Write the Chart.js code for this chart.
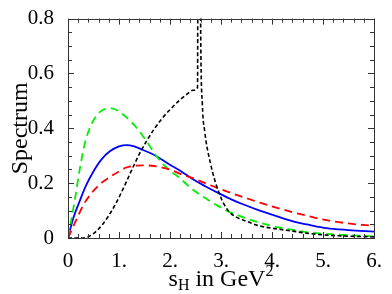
<!DOCTYPE html>
<html>
<head>
<meta charset="utf-8">
<script src="https://cdn.jsdelivr.net/npm/chart.js@4"></script>
<style>
  html, body { margin: 0; padding: 0; background: #fff; }
  #wrap { width: 392px; height: 294px; position: relative; }
</style>
</head>
<body>
<div id="wrap"><canvas id="spectrumChart" width="392" height="294"></canvas></div>
<script>
// x ticks / y ticks
var xTicks = [0, 1, 2, 3, 4, 5, 6];
var yTicks = [0, 0.2, 0.4, 0.6, 0.8];

// blue solid curve
var blueX = [0, 0.1, 0.23, 0.35, 0.49, 0.65, 0.82, 1.0, 1.15, 1.3, 1.47, 1.7, 1.99, 2.2, 2.45, 2.7, 2.97, 3.2, 3.43, 3.76, 4.1, 4.41, 4.75, 5.07, 5.5, 6];
var blueY = [0, 0.07, 0.135, 0.19, 0.24, 0.285, 0.316, 0.334, 0.339, 0.334, 0.321, 0.302, 0.268, 0.245, 0.214, 0.188, 0.162, 0.141, 0.123, 0.1, 0.079, 0.061, 0.047, 0.036, 0.029, 0.023];

// red dashed curve
var redX = [0, 0.16, 0.3, 0.49, 0.65, 0.82, 1.0, 1.145, 1.3, 1.47, 1.7, 1.99, 2.2, 2.45, 2.8, 3.11, 3.5, 3.76, 3.95, 4.41, 5.07, 5.5, 6];
var redY = [0, 0.065, 0.12, 0.17, 0.2, 0.222, 0.243, 0.257, 0.263, 0.265, 0.262, 0.25, 0.234, 0.218, 0.192, 0.17, 0.145, 0.129, 0.118, 0.094, 0.065, 0.053, 0.044];

// green dashed curve
var greenX = [0, 0.13, 0.23, 0.33, 0.49, 0.65, 0.85, 1.05, 1.34, 1.55, 1.73, 1.99, 2.13, 2.45, 2.78, 3.11, 3.43, 3.76, 4.1, 4.41, 4.74, 5.3, 6];
var greenY = [0, 0.135, 0.25, 0.345, 0.426, 0.463, 0.473, 0.455, 0.403, 0.35, 0.3, 0.246, 0.228, 0.176, 0.135, 0.1, 0.076, 0.056, 0.04, 0.03, 0.02, 0.012, 0.006];

// black dashed curve (spike near 2.56)
var blackX = [0, 0.29, 0.4, 0.5, 0.6, 0.7, 0.8, 0.9, 1.0, 1.1, 1.21, 1.3, 1.41, 1.54, 1.7, 1.85, 2.0, 2.19, 2.35, 2.45, 2.54, 2.55, 2.59, 2.6, 2.635, 2.68, 2.79, 2.97, 3.14, 3.3, 3.43, 3.76, 4.1, 4.41, 4.74, 5.3, 6];
var blackY = [0, 0, 0.005, 0.016, 0.033, 0.055, 0.082, 0.113, 0.148, 0.187, 0.232, 0.268, 0.31, 0.353, 0.4, 0.437, 0.468, 0.503, 0.527, 0.539, 0.548, 1.3, 1.3, 0.8, 0.485, 0.39, 0.275, 0.16, 0.1, 0.076, 0.066, 0.044, 0.033, 0.025, 0.016, 0.008, 0.004];

function pts(xs, ys) {
    return xs.map(function (x, i) { return { x: x, y: ys[i] }; });
}

var serif = '"Liberation Serif", "Times New Roman", serif';

var ctx = document.getElementById('spectrumChart').getContext('2d');
var spectrumChart = new Chart(ctx, {
    type: 'line',
    data: {
        datasets: [{
            label: 'black',
            data: pts(blackX, blackY),
            borderColor: '#000000',
            borderWidth: 1.6,
            borderDash: [4, 2.5],
        },
        {
            label: 'red',
            data: pts(redX, redY),
            borderColor: '#ff0000',
            borderWidth: 1.8,
            borderDash: [8, 5],
        },
        {
            label: 'green',
            data: pts(greenX, greenY),
            borderColor: '#00ee00',
            borderWidth: 1.8,
            borderDash: [8, 5],
        },
        {
            label: 'blue',
            data: pts(blueX, blueY),
            borderColor: '#0000ff',
            borderWidth: 1.8,
        }]
    },
    options: {
        responsive: false,
        animation: false,
        layout: {
            padding: { top: 10, right: 18, left: 0, bottom: 0 }
        },
        elements: {
            point: { radius: 0 },
            line: { cubicInterpolationMode: 'monotone', fill: false }
        },
        scales: {
            x: {
                type: 'linear',
                min: 0,
                max: 6,
                border: { display: false },
                grid: { display: false },
                afterBuildTicks: function (scale) {
                    scale.ticks = xTicks.map(function (v) { return { value: v }; });
                },
                afterFit: function (scale) { scale.height = 56; },
                ticks: {
                    color: '#000',
                    padding: 3,
                    maxRotation: 0,
                    font: { family: serif, size: 21 },
                    callback: function (v) { return v === 0 ? '0' : v + '.'; }
                }
            },
            y: {
                min: 0,
                max: 0.8,
                border: { display: false },
                grid: { display: false },
                afterBuildTicks: function (scale) {
                    scale.ticks = yTicks.map(function (v) { return { value: v }; });
                },
                afterFit: function (scale) { scale.width = 68; },
                ticks: {
                    color: '#000',
                    padding: 6,
                    font: { family: serif, size: 21 },
                    callback: function (v) { return v === 0 ? '0' : v.toFixed(1); }
                }
            }
        },
        plugins: {
            legend: { display: false },
            tooltip: { enabled: false }
        }
    },
    plugins: [{
        id: 'frameAndTitles',
        afterDraw: function (chart) {
            var c = chart.ctx;
            var a = chart.chartArea;
            var xs = chart.scales.x, ys = chart.scales.y;
            c.save();
            c.strokeStyle = '#333';
            c.lineWidth = 1;
            c.strokeRect(Math.round(a.left) + 0.5, Math.round(a.top) + 0.5,
                Math.round(a.right - a.left), Math.round(a.bottom - a.top));
            // inward ticks on every side
            c.beginPath();
            for (var i = 0; i <= 30; i++) {
                var v = i / 5;
                var px = Math.round(xs.getPixelForValue(v)) + 0.5;
                var len = (i % 5 === 0) ? 6 : 4;
                c.moveTo(px, a.bottom); c.lineTo(px, a.bottom - len);
                c.moveTo(px, a.top); c.lineTo(px, a.top + len);
            }
            for (var j = 0; j <= 16; j++) {
                var w = j * 0.05;
                var py = Math.round(ys.getPixelForValue(w)) + 0.5;
                var l2 = (j % 4 === 0) ? 6 : 4;
                c.moveTo(a.left, py); c.lineTo(a.left + l2, py);
                c.moveTo(a.right, py); c.lineTo(a.right - l2, py);
            }
            c.stroke();

            // axis titles
            c.fillStyle = '#000';
            c.textBaseline = 'alphabetic';
            c.textAlign = 'left';
            var big = '24px ' + serif, small = '16px ' + serif;
            c.font = big; var w1 = c.measureText('s').width;
            c.font = small; var w2 = c.measureText('H').width;
            c.font = big; var w3 = c.measureText(' in GeV').width;
            c.font = small; var w4 = c.measureText('2').width;
            var total = w1 + w2 + w3 + w4;
            var x0 = (a.left + a.right) / 2 - total / 2;
            var base = 286;
            c.font = big; c.fillText('s', x0, base);
            c.font = small; c.fillText('H', x0 + w1, base + 4);
            c.font = big; c.fillText(' in GeV', x0 + w1 + w2, base);
            c.font = small; c.fillText('2', x0 + w1 + w2 + w3, base - 10);

            c.translate(27, (a.top + a.bottom) / 2);
            c.rotate(-Math.PI / 2);
            c.textAlign = 'center';
            c.font = big;
            c.fillText('Spectrum', 0, 0);
            c.restore();
        }
    }]
});
</script>
</body>
</html>
